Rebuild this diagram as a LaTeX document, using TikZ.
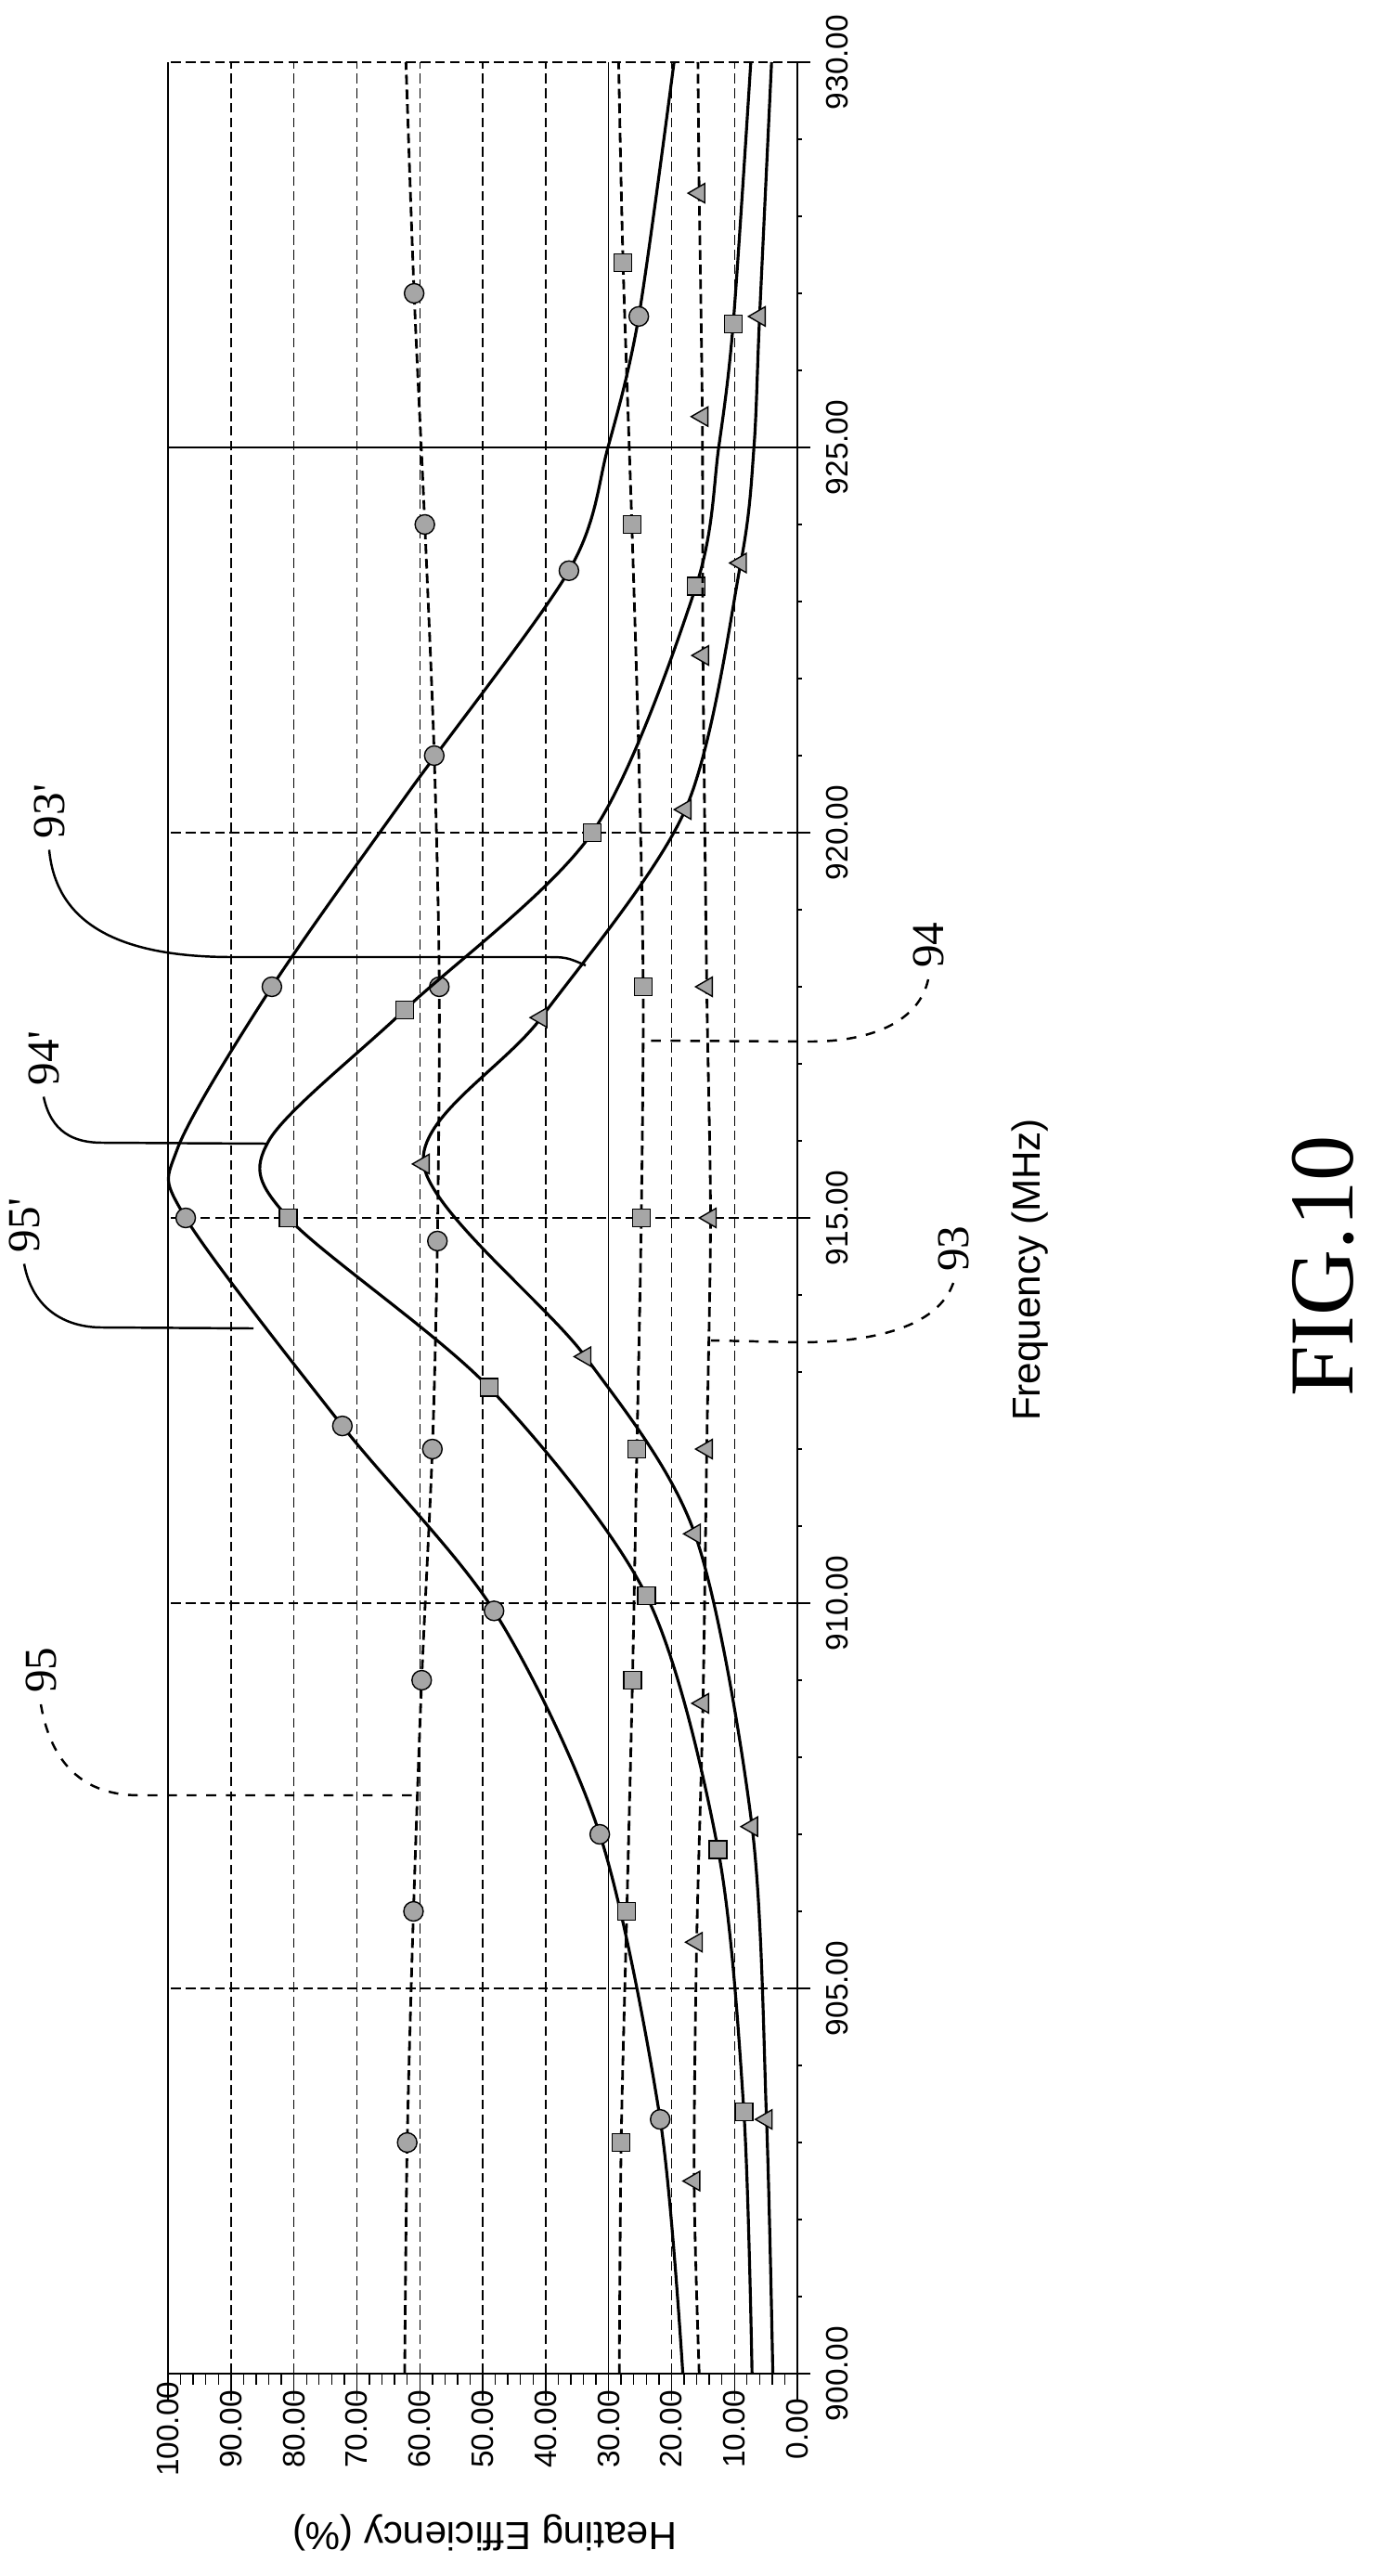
\documentclass[tikz,border=0pt]{standalone}
\usepackage{fontspec}
\setmainfont{Liberation Sans}
\newfontfamily\labelfont{Liberation Serif}
\usetikzlibrary{shapes.geometric}

\tikzset{
  grid/.style={black, thin, dash pattern=on 3pt off 1.5pt},
  curve/.style={black, line width=0.9pt},
  flatcurve/.style={black, line width=0.8pt, dash pattern=on 3pt off 1.5pt},
  leader/.style={black, line width=0.7pt},
  circmark/.style={circle, draw=black, fill=gray!70, inner sep=0pt, minimum size=0.21cm},
  sqmark/.style={rectangle, draw=black, fill=gray!70, inner sep=0pt, minimum size=0.19cm},
  trimark/.style={regular polygon, regular polygon sides=3, shape border rotate=90, draw=black, fill=gray!70, inner sep=0pt, minimum size=0.24cm},
  ticklabel/.style={font=\fontsize{9.5}{11}\selectfont},
  reflabel/.style={font=\labelfont\fontsize{14}{16}\selectfont, rotate=90}
}

\begin{document}
\begin{tikzpicture}
\useasboundingbox (0,0) rectangle (14.9,-27.75);

% chart drawn in (frequency-900, efficiency) coordinates
\begin{scope}[shift={(8.59,-25.57)}, x={(0cm,0.83cm)}, y={(-0.0678cm,0cm)}]
  % grid
  \foreach \v in {10,20,40,50,60,70,80,90}
    \draw[grid] (0,\v) -- (30,\v);
  \draw[black, thin] (0,30) -- (30,30);
  \foreach \f in {5,10,15,20}
    \draw[grid] (\f,0) -- (\f,100);
  \draw[black, thin] (25,0) -- (25,100);
  \draw[grid] (30,0) -- (30,100);
  \draw[black, thin] (0,100) -- (30,100);
  % axes with ticks
  \draw[black, thin] (0,0) -- (0,100);
  \draw[black, thin] (0,0) -- (30,0);
  \foreach \v in {0,2,...,100}
    \draw[black, thin] (0,\v) -- (-0.14,\v);
  \foreach \v in {0,10,...,100}
    \draw[black, thin] (0,\v) -- (-0.35,\v);
  \foreach \f in {0,1,...,30}
    \draw[black, thin] (\f,0) -- (\f,-0.8);
  \foreach \f in {0,5,...,30}
    \draw[black, thin] (\f,0) -- (\f,-2);
  % tick labels
  \foreach \v in {0,10,...,100}
    \node[ticklabel, rotate=90] at (-0.72,\v) {\v.00};
  \foreach \f in {0,5,...,30}
    \pgfmathtruncatemacro\fr{900+\f}
    \node[ticklabel, rotate=90] at (\f,-6.3) {\fr.00};

  % 95' and 95
  \draw[curve] plot[smooth] coordinates {(0,18.2) (3.3,21.8) (7,31.4) (9.9,48.2) (12.3,72.3) (15,97.2) (15.9,98.5) (18,83.5) (20.5,62) (23.4,36.3) (25,30.1) (26.7,25.2) (30,19.6)};
  \foreach \f/\v in {3.3/21.8,7/31.4,9.9/48.2,12.3/72.3,15/97.2,18/83.5,23.4/36.3,26.7/25.2}
    \node[circmark] at (\f,\v) {};
  \draw[flatcurve] plot[smooth] coordinates {(0,62.4) (3,62) (6,61) (9,59.7) (12,58) (14.7,57.2) (18,56.9) (21,57.7) (24,59.2) (27,60.9) (30,62.2)};
  \foreach \f/\v in {3/62,6/61,9/59.7,12/58,14.7/57.2,18/56.9,21/57.7,24/59.2,27/60.9}
    \node[circmark] at (\f,\v) {};

  % 94' and 94
  \draw[curve] plot[smooth] coordinates {(0,7.2) (3.4,8.5) (6.8,12.6) (10.1,24) (12.8,49) (15,80.9) (16,84) (17.7,62.4) (20,32.6) (23.2,16.1) (25,12.5) (26.6,10.2) (30,7.4)};
  \foreach \f/\v in {3.4/8.5,6.8/12.6,10.1/24,12.8/49,15/80.9,17.7/62.4,20/32.6,23.2/16.1,26.6/10.2}
    \node[sqmark] at (\f,\v) {};
  \draw[flatcurve] plot[smooth] coordinates {(0,28.3) (3,28) (6,27.1) (9,26.2) (12,25.5) (15,24.8) (18,24.5) (21,25.2) (24,26.3) (27.4,27.7) (30,28.4)};
  \foreach \f/\v in {3/28,6/27.1,9/26.2,12/25.5,15/24.8,18/24.5,24/26.3,27.4/27.7}
    \node[sqmark] at (\f,\v) {};

  % 93' and 93
  \draw[curve] plot[smooth] coordinates {(0,3.9) (3.3,4.9) (7.1,7.2) (10.9,16.3) (13.2,33.7) (15.7,59.4) (17.6,40.7) (20.3,17.8) (23.5,9) (25,6.9) (26.7,6) (30,4.1)};
  \foreach \f/\v in {3.3/4.9,7.1/7.2,10.9/16.3,13.2/33.7,15.7/59.4,17.6/40.7,20.3/17.8,23.5/9,26.7/6}
    \node[trimark] at (\f,\v) {};
  \draw[flatcurve] plot[smooth] coordinates {(0,15.6) (2.5,16.4) (5.6,16) (8.7,15) (12,14.4) (15,13.8) (18,14.4) (22.3,15) (25.4,15.1) (28.3,15.6) (30,15.8)};
  \foreach \f/\v in {2.5/16.4,5.6/16,8.7/15,12/14.4,15/13.8,18/14.4,22.3/15,25.4/15.1,28.3/15.6}
    \node[trimark] at (\f,\v) {};
\end{scope}

% axis titles
\node[font=\fontsize{12}{14}\selectfont, rotate=180] (ytitle) at (5.22,-27.28) {Heating Efficiency (\%)};
\node[font=\fontsize{12}{14}\selectfont, rotate=90] (xtitle) at (11.10,-13.68) {Frequency (MHz)};
\node[font=\labelfont\fontsize{28}{30}\selectfont, rotate=90] (fig) at (14.25,-13.64) {FIG.10};

% reference labels and leaders
\node[reflabel] (l93p) at (0.53,-8.74) {93'};
\node[reflabel] (l94p) at (0.47,-11.40) {94'};
\node[reflabel] (l95p) at (0.26,-13.20) {95'};
\node[reflabel] (l95) at (0.44,-17.99) {95};
\node[reflabel] (l94) at (10.00,-10.18) {94};
\node[reflabel] (l93) at (10.27,-13.45) {93};
\coordinate (c93p) at (6.31,-10.40);
\coordinate (c94p) at (2.89,-12.32);
\coordinate (c95p) at (2.73,-14.31);
\coordinate (c95) at (4.49,-19.34);
\coordinate (c94) at (6.95,-11.21);
\coordinate (c93) at (7.66,-14.44);
\draw[leader] (l93p.west) .. controls (0.6,-9.9) and (1.2,-10.31) .. (2.5,-10.31) -- (5.85,-10.31) .. controls (6.1,-10.31) .. (c93p);
\draw[leader] (l94p.west) .. controls (0.55,-12.2) and (0.8,-12.31) .. (1.1,-12.31) -- (c94p);
\draw[leader] (l95p.west) .. controls (0.35,-14.1) and (0.7,-14.3) .. (1.1,-14.30) -- (c95p);
\draw[leader, dashed] (l95.west) .. controls (0.55,-19.0) and (0.9,-19.34) .. (1.5,-19.34) -- (c95);
\draw[leader, dashed] (l94.west) .. controls (9.9,-11.0) and (9.4,-11.22) .. (8.73,-11.22) -- (c94);
\draw[leader, dashed] (l93.west) .. controls (10.1,-14.3) and (9.4,-14.46) .. (8.61,-14.46) -- (c93);
\end{tikzpicture}
\end{document}
